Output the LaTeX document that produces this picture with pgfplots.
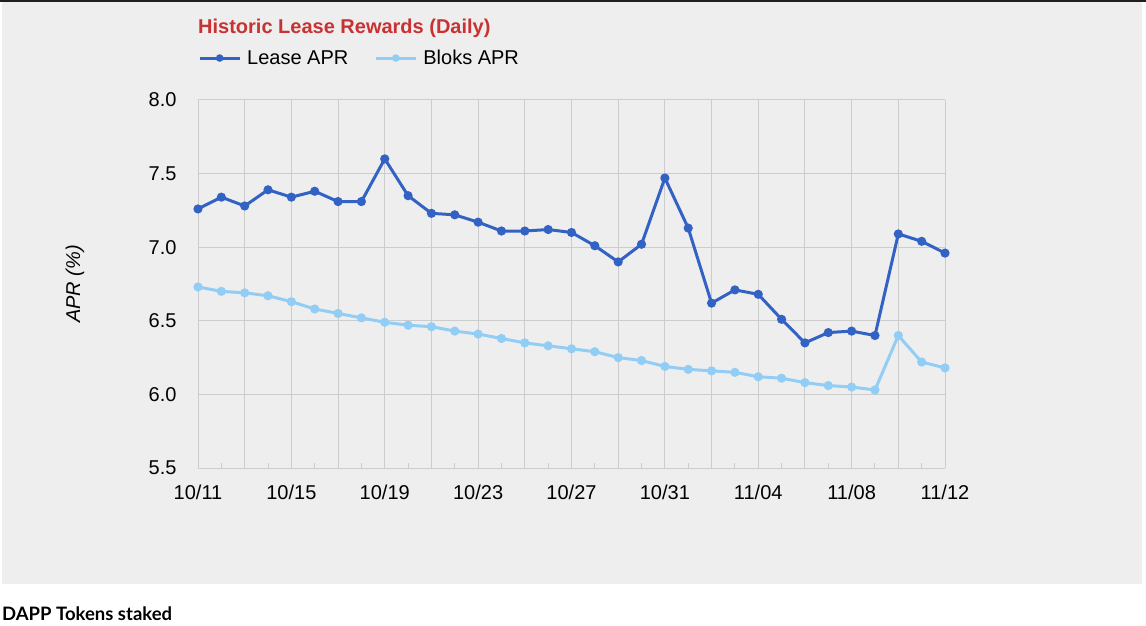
\documentclass[border=0pt]{standalone}
\usepackage{fontspec}
\setmainfont{Liberation Sans}
\newfontfamily\lato{Lato}
\usepackage{pgfplots}
\pgfplotsset{compat=1.18}
\definecolor{bgray}{HTML}{EEEEEE}
\definecolor{lease}{HTML}{3262C3}
\definecolor{bloks}{HTML}{92CDF5}
\definecolor{ttl}{HTML}{C83232}
\definecolor{gridc}{HTML}{CCCCCC}
\begin{document}
\begin{tikzpicture}
\path[use as bounding box] (0,0) rectangle (1146pt,625pt);
\fill[white] (0,0) rectangle (1146pt,625pt);
\fill[black!88] (0,623pt) rectangle (1146pt,625pt);
\fill[bgray] (2pt,41pt) rectangle (1142pt,623pt);
\node[anchor=base west,inner sep=0pt,font=\lato\bfseries\fontsize{18.5}{22}\selectfont] at (2pt,5pt) {DAPP Tokens staked};
\node[anchor=base west,inner sep=0pt,text=ttl,font=\bfseries\fontsize{20}{24}\selectfont] at (198pt,591pt) {Historic Lease Rewards (Daily)};
\begin{axis}[
  at={(198pt,157pt)}, anchor=south west,
  scale only axis, width=747pt, height=368pt,
  xmin=0, xmax=32, ymin=5.5, ymax=8.0,
  xtick={0,2,...,32},
  xticklabels={10/11,,10/15,,10/19,,10/23,,10/27,,10/31,,11/04,,11/08,,11/12},
  minor xtick={1,3,...,31},
  ytick={5.5,6.0,6.5,7.0,7.5,8.0},
  /pgf/number format/assume math mode=true,
  yticklabel style={/pgf/number format/fixed,/pgf/number format/fixed zerofill,/pgf/number format/precision=1},
  xmajorgrids, ymajorgrids,
  major grid style={gridc, line width=1pt},
  axis line style={draw=none},
  major tick length=0pt,
  minor tick length=5pt,
  minor tick style={gridc, line width=1pt},
  xtick pos=bottom, ytick pos=left,
  tick align=inside,
  ticklabel style={font=\fontsize{20}{24}\selectfont},
  xticklabel style={yshift=-13pt},
  yticklabel style={xshift=-18pt},
  ylabel={\itshape APR (\%)},
  every axis y label/.style={at={(axis description cs:-0.1647,0.5)}, anchor=center, rotate=90, font=\fontsize{20}{24}\selectfont},
  legend columns=2,
  legend style={at={(axis description cs:0,1.114)}, anchor=west, draw=none, fill=none,
    inner sep=0pt, nodes={inner sep=0pt}, font=\fontsize{20}{24}\selectfont,
    /tikz/every odd column/.append style={column sep=6pt},
    /tikz/every even column/.append style={column sep=26pt}},
  legend cell align=left,
  legend image code/.code={\draw[#1,line width=3pt,mark size=2.2pt,mark repeat=2,mark phase=2] plot coordinates {(0pt,0pt) (20pt,0pt) (40pt,0pt)};},
  clip=false,
]
\addplot[lease, line width=3pt, mark=*, mark size=3pt] coordinates {
(0,7.26) (1,7.34) (2,7.28) (3,7.39) (4,7.34) (5,7.38) (6,7.31) (7,7.31) (8,7.60) (9,7.35)
(10,7.23) (11,7.22) (12,7.17) (13,7.11) (14,7.11) (15,7.12) (16,7.10) (17,7.01) (18,6.90) (19,7.02)
(20,7.47) (21,7.13) (22,6.62) (23,6.71) (24,6.68) (25,6.51) (26,6.35) (27,6.42) (28,6.43) (29,6.40)
(30,7.09) (31,7.04) (32,6.96)};
\addlegendentry{Lease APR}
\addplot[bloks, line width=3pt, mark=*, mark size=3pt] coordinates {
(0,6.73) (1,6.70) (2,6.69) (3,6.67) (4,6.63) (5,6.58) (6,6.55) (7,6.52) (8,6.49) (9,6.47)
(10,6.46) (11,6.43) (12,6.41) (13,6.38) (14,6.35) (15,6.33) (16,6.31) (17,6.29) (18,6.25) (19,6.23)
(20,6.19) (21,6.17) (22,6.16) (23,6.15) (24,6.12) (25,6.11) (26,6.08) (27,6.06) (28,6.05) (29,6.03)
(30,6.40) (31,6.22) (32,6.18)};
\addlegendentry{Bloks APR}
\end{axis}
\end{tikzpicture}
\end{document}
